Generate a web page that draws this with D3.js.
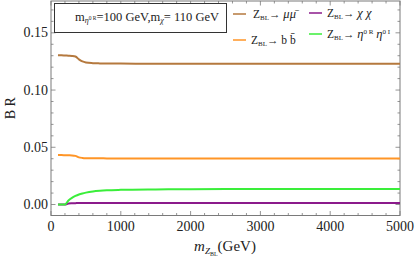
<!DOCTYPE html>
<html>
<head>
<meta charset="utf-8">
<script src="https://cdn.jsdelivr.net/npm/d3@7"></script>
<style>
  body { margin: 0; background: #fff; }
  text { font-family: "Liberation Serif", "DejaVu Serif", serif; }
</style>
</head>
<body>
<svg id="chart" width="415" height="258"></svg>
<script>
// values
const mass = [100, 150, 200, 250, 300, 350, 400, 450, 500, 600, 700, 800, 1000, 1500, 2000, 3000, 4000, 5000];
const brMuMu = [0.1305, 0.1304, 0.1302, 0.1300, 0.1298, 0.1293, 0.1268, 0.1250, 0.1241, 0.1235, 0.1233, 0.1232, 0.1231, 0.1230, 0.1230, 0.1230, 0.1230, 0.1230];
const brBB = [0.0432, 0.0432, 0.0431, 0.0430, 0.0429, 0.0425, 0.0412, 0.0407, 0.0405, 0.0404, 0.0404, 0.0403, 0.0403, 0.0403, 0.0403, 0.0403, 0.0403, 0.0403];
const brChiChi = [0, 0, 0, 0.0009, 0.0011, 0.0012, 0.0013, 0.0013, 0.0013, 0.0013, 0.0013, 0.0013, 0.0013, 0.0013, 0.0013, 0.0013, 0.0013, 0.0013];
const brEtaEta = [0, 0, 0, 0.0035, 0.0058, 0.0075, 0.0088, 0.0097, 0.0104, 0.0114, 0.0120, 0.0124, 0.0128, 0.0132, 0.0134, 0.0135, 0.0136, 0.0136];

const seriesColors = ["#b5793e", "#ff9526", "#8b1a8b", "#3aee3a"];
const seriesValues = [brMuMu, brBB, brChiChi, brEtaEta];

const xTicks = [0, 1000, 2000, 3000, 4000, 5000];
const yTicks = [0, 0.05, 0.10, 0.15];

const svg = d3.select("#chart");
const plotL = 51, plotR = 400, plotT = 1, plotB = 215.5;

const x = d3.scaleLinear().domain([0, 5000]).range([plotL, plotR]);
const y = d3.scaleLinear().domain([-0.0096, 0.1778]).range([plotB, plotT]);

const frameColor = "#7a7a7a";

// frame
svg.append("rect")
  .attr("x", plotL).attr("y", plotT)
  .attr("width", plotR - plotL).attr("height", plotB - plotT)
  .attr("fill", "none").attr("stroke", frameColor).attr("stroke-width", 1);

// ticks (inside, all four sides)
const ticksG = svg.append("g").attr("stroke", frameColor).attr("stroke-width", 0.8);
d3.range(0, 5001, 200).forEach(v => {
  const len = v % 1000 === 0 ? 4.5 : 2.5;
  const px = x(v);
  ticksG.append("line").attr("x1", px).attr("x2", px).attr("y1", plotB).attr("y2", plotB - len);
  ticksG.append("line").attr("x1", px).attr("x2", px).attr("y1", plotT).attr("y2", plotT + len);
});
d3.range(0, 18).forEach(k => {
  const len = k % 5 === 0 ? 4.5 : 2.5;
  const py = y(k / 100);
  ticksG.append("line").attr("x1", plotL).attr("x2", plotL + len).attr("y1", py).attr("y2", py);
  ticksG.append("line").attr("x1", plotR).attr("x2", plotR - len).attr("y1", py).attr("y2", py);
});

// tick labels
svg.append("g").selectAll("text").data(xTicks).join("text")
  .attr("x", d => x(d)).attr("y", plotB + 15)
  .attr("text-anchor", "middle").attr("font-size", 14).attr("fill", "#222")
  .text(d => d);
svg.append("g").selectAll("text").data(yTicks).join("text")
  .attr("x", plotL - 3).attr("y", d => y(d) + 4.5)
  .attr("text-anchor", "end").attr("font-size", 14).attr("fill", "#222")
  .text(d => d3.format(".2f")(d));

// axis labels
svg.append("text")
  .attr("transform", `translate(15,${(plotT + plotB) / 2}) rotate(-90)`)
  .attr("text-anchor", "middle").attr("font-size", 14).attr("fill", "#222")
  .text("B R");

const xl = svg.append("text")
  .attr("x", 225).attr("y", 251)
  .attr("text-anchor", "middle").attr("font-size", 15).attr("fill", "#222");
xl.append("tspan").attr("font-style", "italic").text("m");
xl.append("tspan").attr("font-size", 9).attr("font-style", "italic").attr("dy", 3).text("Z");
xl.append("tspan").attr("font-size", 6).attr("dy", 1.5).text("BL");
xl.append("tspan").attr("dy", -4.5).text("(GeV)");

// curves
const line = d3.line()
  .x(d => x(d[0]))
  .y(d => y(d[1]))
  .curve(d3.curveMonotoneX);

seriesValues.forEach((vals, i) => {
  svg.append("path")
    .datum(mass.map((m, j) => [m, vals[j]]))
    .attr("fill", "none")
    .attr("stroke", seriesColors[i])
    .attr("stroke-width", 2)
    .attr("d", line);
});

// parameter box
svg.append("rect")
  .attr("x", 54.5).attr("y", 3.5).attr("width", 172).attr("height", 29)
  .attr("fill", "#fff").attr("stroke", "#333").attr("stroke-width", 1);
const pt = svg.append("text").attr("x", 75).attr("y", 20.5).attr("font-size", 12.5).attr("fill", "#222");
pt.append("tspan").text("m");
pt.append("tspan").attr("font-size", 8).attr("font-style", "italic").attr("dy", 2).text("η");
pt.append("tspan").attr("font-size", 5.5).attr("dy", -3).text("0 R");
pt.append("tspan").attr("dy", 1).text("=100 GeV,m");
pt.append("tspan").attr("font-size", 8).attr("font-style", "italic").attr("dy", 2).text("χ");
pt.append("tspan").attr("dy", -2).text("= 110 GeV");

// legend
const legend = [
  { c: seriesColors[0], lx: 233, ly: 14, tx: 253, kind: "mu" },
  { c: seriesColors[2], lx: 309, ly: 13, tx: 327, kind: "chi" },
  { c: seriesColors[1], lx: 233, ly: 40, tx: 251, kind: "b" },
  { c: seriesColors[3], lx: 309, ly: 34, tx: 327, kind: "eta" }
];
legend.forEach(d => {
  svg.append("line").attr("x1", d.lx).attr("x2", d.lx + 13)
    .attr("y1", d.ly).attr("y2", d.ly)
    .attr("stroke", d.c).attr("stroke-width", 1.5);
  const t = svg.append("text").attr("x", d.tx).attr("y", d.ly + 3.5)
    .attr("font-size", 11.5).attr("fill", "#222");
  t.append("tspan").text("Z");
  t.append("tspan").attr("font-size", 7).attr("dy", 2).text("BL");
  t.append("tspan").attr("dy", -2).text("→ ");
  if (d.kind === "eta") {
    t.append("tspan").attr("font-style", "italic").attr("font-size", 12.5).text("η");
    t.append("tspan").attr("font-size", 7).attr("dy", -4).text("0 R");
    t.append("tspan").attr("dy", 4).text(" ");
    t.append("tspan").attr("font-style", "italic").attr("font-size", 12.5).text("η");
    t.append("tspan").attr("font-size", 7).attr("dy", -4).text("0 I");
  } else if (d.kind === "mu") {
    t.append("tspan").attr("font-style", "italic").attr("font-size", 12.5).text("μμ̄");
  } else if (d.kind === "chi") {
    t.append("tspan").attr("font-style", "italic").attr("font-size", 12.5).text("χ χ");
  } else {
    t.append("tspan").text("b b̄");
  }
});
</script>
</body>
</html>
